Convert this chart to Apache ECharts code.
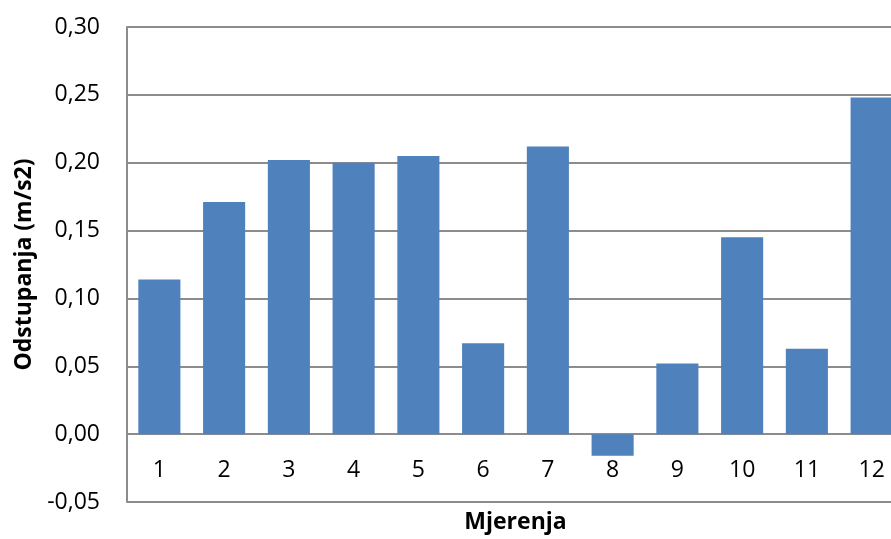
<!DOCTYPE html>
<html>
<head>
<meta charset="utf-8">
<script src="https://cdn.jsdelivr.net/npm/echarts@6/dist/echarts.min.js"></script>
<style>html,body{margin:0;padding:0;background:#fff}#c{width:891px;height:539px}</style>
</head>
<body>
<div id="c"></div>
<script>
const categories = ['1','2','3','4','5','6','7','8','9','10','11','12'];
const values = [0.114, 0.171, 0.202, 0.200, 0.205, 0.067, 0.212, -0.016, 0.052, 0.145, 0.063, 0.248];
const yTicks = [-0.05, 0.30, 0.05]; // min, max, interval
const xTitle = 'Mjerenja';
const yTitle = 'Odstupanja (m/s2)';

const FONT = '"Open Sans", "Liberation Sans", sans-serif';
const chart = echarts.init(document.getElementById('c'), null, {renderer: 'canvas'});
chart.setOption({
  animation: false,
  backgroundColor: '#ffffff',
  grid: {left: 127, top: 27, width: 777, height: 475, containLabel: false, outerBoundsMode: 'none'},
  xAxis: {
    type: 'category',
    data: categories,
    position: 'bottom',
    offset: -68,
    name: xTitle,
    nameLocation: 'middle',
    nameGap: 77,
    nameTextStyle: {fontFamily: FONT, fontSize: 23, fontWeight: 'bold', color: '#000'},
    axisLine: {show: true, onZero: false, lineStyle: {color: '#8c8c8c', width: 2}},
    axisTick: {show: false},
    axisLabel: {fontFamily: FONT, fontSize: 23, color: '#000', margin: 25},
    splitLine: {show: false}
  },
  yAxis: {
    type: 'value',
    min: yTicks[0], max: yTicks[1], interval: yTicks[2],
    name: yTitle,
    nameLocation: 'middle',
    nameRotate: 90,
    nameGap: 91,
    nameTextStyle: {fontFamily: FONT, fontSize: 23, fontWeight: 'bold', color: '#000'},
    axisLine: {show: true, lineStyle: {color: '#8c8c8c', width: 2}},
    axisTick: {show: false},
    axisLabel: {
      fontFamily: FONT, fontSize: 23, color: '#000', margin: 27,
      formatter: v => v.toFixed(2).replace('.', ',')
    },
    splitLine: {show: true, lineStyle: {color: '#8c8c8c', width: 2}}
  },
  series: [{
    type: 'bar',
    data: values,
    barCategoryGap: '35%',
    itemStyle: {color: '#4f81bd'}
  }]
});
</script>
</body>
</html>
